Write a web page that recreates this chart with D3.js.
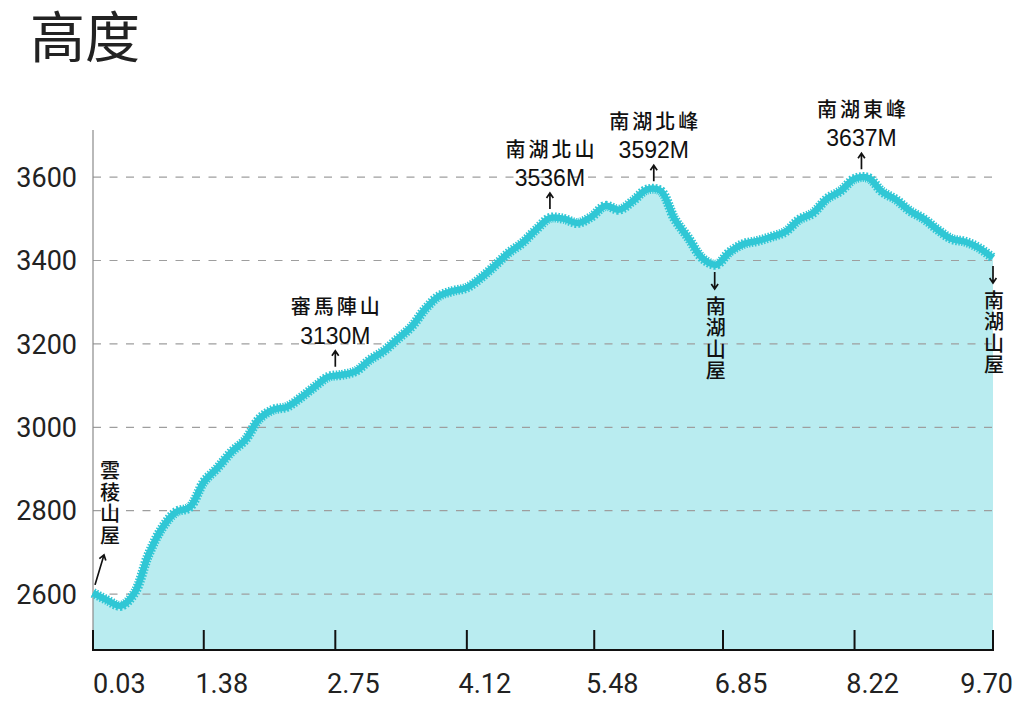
<!DOCTYPE html>
<html><head><meta charset="utf-8">
<script src="https://cdn.jsdelivr.net/npm/d3@7"></script>
<style>body{margin:0;background:#fff;} svg{display:block;}</style>
</head><body><svg id="c" width="1024" height="715"></svg>
<script>
// elevation samples (m), evenly spaced along the x axis
const elevation = [2603,2586,2572,2603,2694,2759,2797,2809,2869,2903,
  2941,2970,3020,3042,3049,3071,3097,3121,3126,3135,
  3162,3183,3212,3241,3284,3315,3327,3335,3358,3387,
  3418,3442,3474,3502,3500,3490,3505,3531,3522,3543,
  3570,3567,3500,3454,3406,3390,3421,3440,3447,3457,
  3469,3498,3514,3548,3567,3596,3598,3565,3546,3519,
  3500,3474,3452,3445,3430,3406];
const xTickIndex = [0, 8, 17.5, 27, 36.2, 45.5, 55, 65];
const xTickLabels = ["0.03","1.38","2.75","4.12","5.48","6.85","8.22","9.70"];
const yTickValues = [2600, 2800, 3000, 3200, 3400, 3600];
const peakNames = ["審馬陣山","南湖北山","南湖北峰","南湖東峰"];
const peakHeights = ["3130M","3536M","3592M","3637M"];
const peakIndex = [17.5, 33, 40.5, 55.5];
const hutNames = ["南湖山屋","南湖山屋"];
const hutIndex = [44.9, 65];
const startHutName = "雲稜山屋";
const startHutIndex = 0;

(function () {
const svg = d3.select("#c");
const L = 93, R = 993, T = 130, B = 650;
const x = d3.scaleLinear().domain([0, elevation.length - 1]).range([L, R]);
const y = d3.scaleLinear().domain([2466, 3713]).range([B, T]);
const elevAt = i => {
  const a = Math.floor(i), b = Math.min(a + 1, elevation.length - 1), t = i - a;
  return elevation[a] * (1 - t) + elevation[b] * t;
};
const cjk = "'Noto Sans CJK TC','Noto Sans CJK SC',sans-serif";

// title
svg.append("text").attr("x", 30).attr("y", 57).text("高度")
  .attr("font-family", cjk).attr("font-size", 55).attr("fill", "#222");

const curve = d3.curveCatmullRom.alpha(0.5);
// area
svg.append("path").datum(elevation)
  .attr("d", d3.area().x((d, i) => x(i)).y0(B).y1(d => y(d)).curve(curve))
  .attr("fill", "#b9ecf0");

// grid
svg.append("g").selectAll("line").data(yTickValues).join("line")
  .attr("x1", L).attr("x2", R)
  .attr("y1", d => y(d)).attr("y2", d => y(d))
  .attr("stroke", "#9e9e9e").attr("stroke-width", 1.2).attr("stroke-dasharray", "8,8.5");

// y labels
svg.append("g").selectAll("text").data(yTickValues).join("text")
  .attr("x", 77).attr("y", d => y(d)).attr("dy", "0.36em")
  .attr("text-anchor", "end").text(d => d)
  .attr("font-family", "Roboto, sans-serif").attr("font-size", 27).attr("fill", "#222");

// y axis line
svg.append("line").attr("x1", L).attr("x2", L).attr("y1", T).attr("y2", B)
  .attr("stroke", "#8a8a8a").attr("stroke-width", 1.2);

// line
const lineGen = d3.line().x((d, i) => x(i)).y(d => y(d)).curve(curve);
svg.append("path").datum(elevation).attr("d", lineGen)
  .attr("fill", "none").attr("stroke", "#30c7d5").attr("stroke-width", 6.5).attr("stroke-linejoin", "round");
svg.append("path").datum(elevation).attr("d", lineGen)
  .attr("fill", "none").attr("stroke", "#30c7d5").attr("stroke-width", 10).attr("stroke-dasharray", "1.5,1.5");

// x axis
svg.append("line").attr("x1", L - 1).attr("x2", R + 1).attr("y1", B).attr("y2", B)
  .attr("stroke", "#111").attr("stroke-width", 2);
svg.append("g").selectAll("line").data(xTickIndex).join("line")
  .attr("x1", d => x(d)).attr("x2", d => x(d)).attr("y1", B - 20).attr("y2", B)
  .attr("stroke", "#111").attr("stroke-width", 2);
svg.append("g").selectAll("text").data(xTickIndex).join("text")
  .attr("x", (d, i) => i === 0 ? x(d) : (i === xTickIndex.length - 1 ? x(d) + 20 : x(d) + 18))
  .attr("y", 693)
  .attr("text-anchor", (d, i) => i === 0 ? "start" : (i === xTickIndex.length - 1 ? "end" : "middle"))
  .text((d, i) => xTickLabels[i])
  .attr("font-family", "Roboto, sans-serif").attr("font-size", 27).attr("fill", "#222");

function arrow(x1, y1, x2, y2) {
  const a = Math.atan2(y2 - y1, x2 - x1), h = 6, w = 0.6;
  const p = `M${x1},${y1}L${x2},${y2}` +
    `M${x2 - h * Math.cos(a - w)},${y2 - h * Math.sin(a - w)}L${x2},${y2}` +
    `L${x2 - h * Math.cos(a + w)},${y2 - h * Math.sin(a + w)}`;
  svg.append("path").attr("d", p).attr("fill", "none").attr("stroke", "#111").attr("stroke-width", 1.7);
}
function vertical(tx, ty, str) {
  svg.append("text").attr("x", tx).attr("y", ty)
    .style("writing-mode", "vertical-rl").style("text-orientation", "upright")
    .attr("letter-spacing", 1.5).text(str)
    .attr("font-family", cjk).attr("font-size", 20).attr("font-weight", 500).attr("fill", "#111");
}

// peaks
peakIndex.forEach((pi, k) => {
  const px = x(pi), py = y(elevAt(pi));
  arrow(px, py - 9, px, py - 25);
  svg.append("text").attr("x", px).attr("y", py - 40).attr("dy", "0.35em").attr("text-anchor", "middle")
    .text(peakHeights[k]).attr("font-family", "'Liberation Sans', Arial, sans-serif")
    .attr("font-size", 23).attr("fill", "#111");
  svg.append("text").attr("x", px + 1.5).attr("y", py - 69).attr("dy", "0.38em").attr("text-anchor", "middle")
    .attr("letter-spacing", 3)
    .text(peakNames[k]).attr("font-family", cjk).attr("font-size", 20).attr("font-weight", 500).attr("fill", "#111");
});

// huts (down arrows + vertical text)
hutIndex.forEach((hi, k) => {
  const hx = x(hi), hy = y(elevAt(hi));
  arrow(hx, hy + 8, hx, hy + 25);
  vertical(hx + 1, hy + 32, hutNames[k]);
});

// start hut
{
  const sx = x(startHutIndex), sy = y(elevAt(startHutIndex));
  arrow(sx + 2, sy - 8, sx + 11, sy - 38);
  vertical(sx + 17, sy - 132, startHutName);
}
})();
</script></body></html>
